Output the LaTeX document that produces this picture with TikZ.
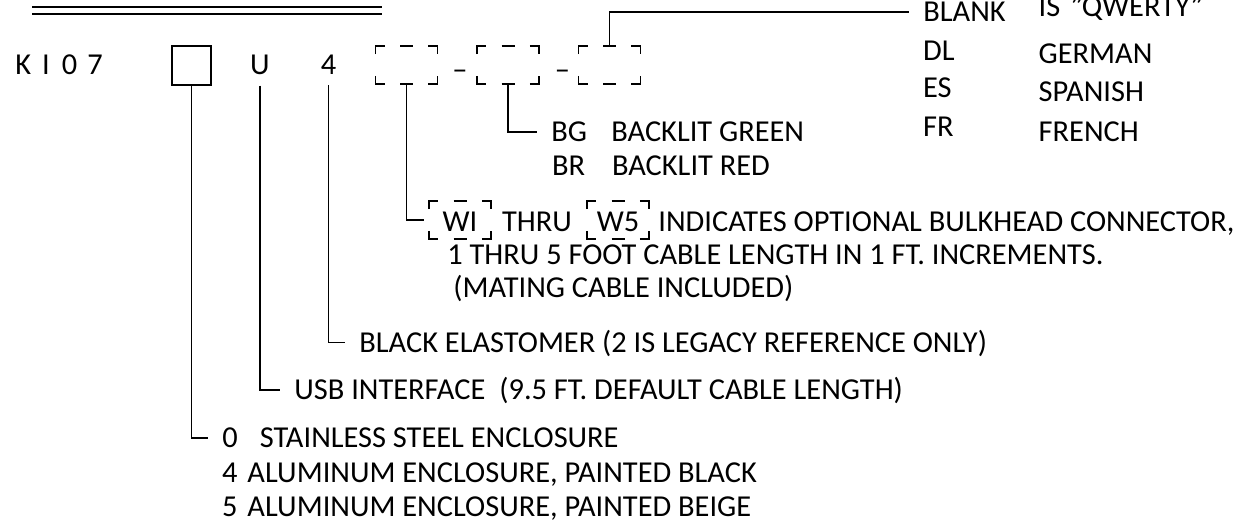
\documentclass[tikz,border=0pt]{standalone}
\usepackage{fontspec}
\setmainfont{Carlito}
\usetikzlibrary{positioning}
\newcommand\partfont{\fontsize{15.2}{18}\selectfont}
\tikzset{
  txt/.style={anchor=base west, inner sep=0pt},
  lbl/.style={anchor=west, inner xsep=7pt, inner ysep=0pt, text height=9.8pt, text depth=0pt},
  wire/.style={line width=0.8pt},
  slotbox/.style={minimum width=30.5pt, minimum height=18.5pt, inner sep=0pt},
  slotline/.style={line width=0.8pt}
}
\begin{document}
\begin{tikzpicture}[x=0.5pt, y=-0.5pt, every node/.style={font=\partfont}]
  \useasboundingbox (0,0) rectangle (1254,522);
  % title rule
  \draw[line width=1.1pt] (32,6.7) -- (382,6.7);
  \draw[line width=0.9pt] (32,14) -- (382,14);
  % part number
  \node[txt] (kio) at (15,75) {K\hspace{5.5pt}I\hspace{6pt}0\hspace{5pt}7};
  \node[draw, wire, minimum size=19.5pt, inner sep=0pt] (sq) at (191.5,65.5) {};
  \node[anchor=base, inner xsep=0pt, inner ysep=5pt] (u) at (260,75) {U};
  \node[anchor=base, inner xsep=0pt, inner ysep=5pt] (four) at (328.5,75) {4};
  \node[slotbox] (slotA) at (406.5,65) {};
  \node[slotbox] (slotB) at (508,65) {};
  \node[slotbox] (slotC) at (609.5,65) {};
  \node[anchor=base, inner sep=0pt] (dashA) at (460,80) {–};
  \node[anchor=base, inner sep=0pt] (dashB) at (562.5,80) {–};
  % language
  \node[lbl] (blank) at (909,12) {BLANK};
  \node[txt] (dl) at (922.7,61) {DL};
  \node[txt] (es) at (922.7,98) {ES};
  \node[txt] (fr) at (922.7,137) {FR};
  \node[txt] (qwerty) at (1038.3,16.7) {IS\hspace{5pt}"QWERTY"};
  \node[txt] (german) at (1038.3,63.3) {GERMAN};
  \node[txt] (spanish) at (1038.3,101.7) {SPANISH};
  \node[txt] (french) at (1038.3,141.7) {FRENCH};
  % backlight
  \node[lbl] (bg) at (537,132) {\makebox[30pt][l]{BG}BACKLIT GREEN};
  \node[txt] (br) at (551.7,175.7) {\makebox[30pt][l]{BR}BACKLIT RED};
  % bulkhead connector
  \node[slotbox, text height=12pt, text depth=0pt] (wibox) at (460,220) {WI};
  \node[txt] (thru) at (501.7,232) {THRU};
  \node[slotbox, text height=12pt, text depth=0pt] (w5box) at (618,220) {W5};
  \node[txt] (indic) at (658,232) {INDICATES OPTIONAL BULKHEAD CONNECTOR,};
  \node[txt] (cable) at (447,265) {1 THRU 5 FOOT CABLE LENGTH IN 1 FT. INCREMENTS.};
  \node[txt] (mating) at (453,298) {(MATING CABLE INCLUDED)};
  % elastomer, interface, enclosure
  \node[lbl] (black) at (345,342.5) {BLACK ELASTOMER (2 IS LEGACY REFERENCE ONLY)};
  \node[lbl] (usb) at (280,390) {USB INTERFACE\hspace{7pt}(9.5 FT. DEFAULT CABLE LENGTH)};
  \node[lbl] (enc0) at (208,438) {0\hspace{11pt}STAINLESS STEEL ENCLOSURE};
  \node[txt] (enc4) at (221.7,483) {4\hspace{5pt}ALUMINUM ENCLOSURE, PAINTED BLACK};
  \node[txt] (enc5) at (221.7,517) {5\hspace{5pt}ALUMINUM ENCLOSURE, PAINTED BEIGE};
  % dashed slot corners
  \foreach \s in {slotA,slotB,slotC,wibox,w5box}{
    \draw[slotline] (\s.north west) ++(0,8) -- ++(0,-8) -- ++(9,0);
    \draw[slotline] (\s.north east) ++(-9,0) -- ++(9,0) -- ++(0,8);
    \draw[slotline] (\s.south west) ++(0,-8) -- ++(0,8) -- ++(9,0);
    \draw[slotline] (\s.south east) ++(-9,0) -- ++(9,0) -- ++(0,-8);
    \draw[slotline] (\s.north) ++(-6.5,0) -- ++(13,0);
    \draw[slotline] (\s.south) ++(-6.5,0) -- ++(13,0);
  }
  % leaders
  \draw[wire] (slotC.north) |- (blank.west);
  \draw[wire] (slotB.south) |- (bg.west);
  \draw[wire, shorten >=2.5pt] (slotA.south) |- (wibox.west);
  \draw[wire] (four.south) |- (black.west);
  \draw[wire] (u.south) |- (usb.west);
  \draw[wire] (sq.south) |- (enc0.west);
\end{tikzpicture}
\end{document}
